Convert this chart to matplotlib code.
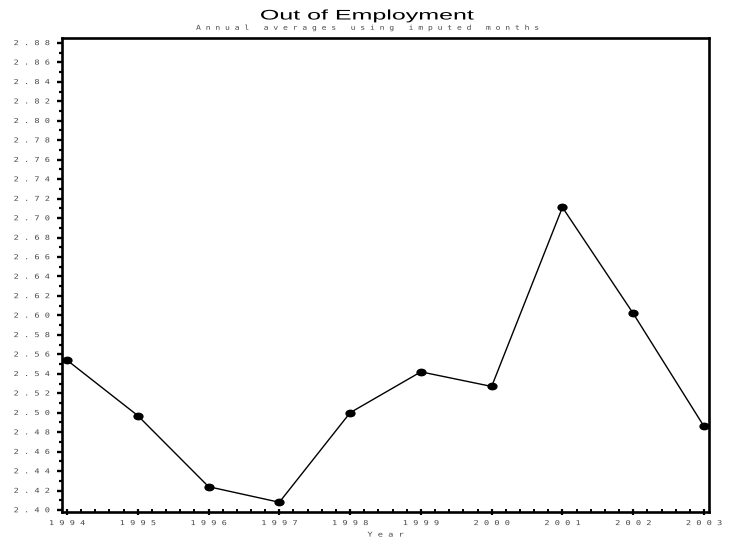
import matplotlib
matplotlib.use("Agg")
import matplotlib.pyplot as plt
from matplotlib.markers import MarkerStyle
from matplotlib.transforms import Affine2D
from matplotlib.patheffects import AbstractPathEffect
from matplotlib.ticker import MultipleLocator, FixedLocator

# Annual averages of months out of employment
years = [1994, 1995, 1996, 1997, 1998, 1999, 2000, 2001, 2002, 2003]
values = [2.554, 2.497, 2.424, 2.408, 2.500, 2.542, 2.527, 2.711, 2.602, 2.486]

y_ticks = [2.40 + 0.02 * i for i in range(25)]

title = "Out of Employment"
subtitle = "Annual averages using imputed months"
x_label = "Year"


def spaced(s):
    """Letter-spaced rendering: one blank between letters, three between words."""
    return "   ".join(" ".join(w) for w in s.split(" "))


class Stretch(AbstractPathEffect):
    """Scale glyph outlines about the centre of the drawn string."""

    def __init__(self, sx, sy=1.0, anchor="center"):
        super().__init__()
        self.sx = sx
        self.sy = sy
        self.anchor = anchor

    def draw_path(self, renderer, gc, tpath, affine, rgbFace=None):
        pts = affine.transform(tpath.vertices)
        if len(pts):
            x0, x1 = pts[:, 0].min(), pts[:, 0].max()
            y0, y1 = pts[:, 1].min(), pts[:, 1].max()
            cx = {"center": 0.5 * (x0 + x1), "right": x1, "left": x0}[self.anchor]
            cy = 0.5 * (y0 + y1)
            extra = (Affine2D().translate(-cx, -cy)
                     .scale(self.sx, self.sy).translate(cx, cy))
            affine = affine + extra
        renderer.draw_path(gc, tpath, affine, rgbFace)


W, H, DPI = 734, 544, 100
fig = plt.figure(figsize=(W / DPI, H / DPI), dpi=DPI)
left, right, top, bottom = 62, 709, 38, 512
ax = fig.add_axes([left / W, (H - bottom) / H, (right - left) / W, (bottom - top) / H])

mono = "DejaVu Sans Mono"
label_color = "#4a4a4a"
small = 5.4

marker = MarkerStyle("o", transform=Affine2D().scale(1.0, 0.72))
ax.plot(years, values, color="black", lw=1.0, marker=marker, ms=6.4,
        markerfacecolor="black", markeredgecolor="black", clip_on=False, zorder=3)

ax.set_xlim(1993.929, 2003.071)
ax.set_ylim(2.398, 2.885)

ax.yaxis.set_major_locator(FixedLocator(y_ticks))
ax.yaxis.set_minor_locator(MultipleLocator(0.01))
ylabels = ax.set_yticklabels([spaced(f"{v:.2f}") for v in y_ticks], family=mono,
                             fontsize=small, color=label_color)
for t in ylabels:
    t.set_path_effects([Stretch(1.15, 0.9, anchor="right")])

ax.xaxis.set_major_locator(FixedLocator(years))
ax.xaxis.set_minor_locator(MultipleLocator(0.2))
xlabels = ax.set_xticklabels([spaced(str(y)) for y in years], family=mono,
                             fontsize=small, color=label_color)
for t in xlabels:
    t.set_path_effects([Stretch(1.15, 0.9)])

for s in ax.spines.values():
    s.set_linewidth(1.9)

ax.tick_params(axis="y", which="major", direction="out", length=3.8, width=1.7, pad=5.0)
ax.tick_params(axis="y", which="minor", direction="out", length=2.0, width=1.6)
ax.tick_params(axis="x", which="major", direction="inout", length=4.0, width=1.6, pad=4.0)
ax.tick_params(axis="x", which="minor", direction="in", length=2.0, width=1.4)

xl = ax.set_xlabel(spaced(x_label), family=mono, fontsize=small, color=label_color,
                   labelpad=4)
xl.set_path_effects([Stretch(1.15, 0.9)])

fig.text(0.5, 1 - 15.5 / H, title, ha="center", va="center", fontsize=10,
         family="Liberation Sans", color="black",
         path_effects=[Stretch(1.8)])
fig.text(0.5, 1 - 28 / H, spaced(subtitle), ha="center", va="center",
         fontsize=small, family=mono, color=label_color,
         path_effects=[Stretch(1.07, 0.9)])

fig.savefig("out.png", dpi=DPI)
